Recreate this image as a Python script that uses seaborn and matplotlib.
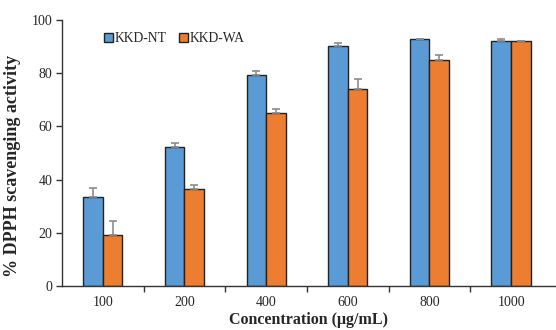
import matplotlib
matplotlib.use("Agg")
import matplotlib.pyplot as plt
import seaborn as sns
import pandas as pd
import numpy as np

concentrations = ["100", "200", "400", "600", "800", "1000"]
nt_values = [33.5, 52.3, 79.2, 90.2, 92.7, 92.2]
nt_errors = [3.4, 1.5, 1.7, 1.0, 0.2, 0.7]
wa_values = [19.2, 36.5, 65.0, 74.2, 85.0, 92.0]
wa_errors = [5.2, 1.5, 1.5, 3.8, 2.0, 0.2]
series = ["KKD-NT", "KKD-WA"]
colors = ["#5B9BD5", "#ED7D31"]

df = pd.DataFrame({
    "conc": concentrations * 2,
    "val": nt_values + wa_values,
    "series": [series[0]] * 6 + [series[1]] * 6,
})

sns.set_style("white")
plt.rcParams["font.family"] = ["Liberation Serif", "DejaVu Serif"]

fig = plt.figure(figsize=(5.56, 3.3), dpi=100)
ax = fig.add_axes([0.1115, 0.1333, 0.8885, 0.806])

sns.barplot(data=df, x="conc", y="val", hue="series", order=concentrations,
            hue_order=series, palette=colors, width=0.48, saturation=1,
            edgecolor="#222222", linewidth=1.0, ax=ax, errorbar=None)

for cont, errs in zip(ax.containers, [nt_errors, wa_errors]):
    xs = [b.get_x() + b.get_width() / 2 for b in cont]
    ys = [b.get_height() for b in cont]
    ax.errorbar(xs, ys, yerr=[np.zeros(len(errs)), errs], fmt="none",
                ecolor="#8c8c8c", elinewidth=1.2, capsize=3, capthick=1.2, zorder=1)

ax.set_ylim(0, 100)
ax.set_xlim(-0.5, 5.55)
ax.set_yticks([0, 20, 40, 60, 80, 100])
ax.tick_params(axis="y", which="major", direction="out", length=4, width=1,
               color="#333333", labelsize=10, left=True, pad=3)
ax.tick_params(axis="x", which="major", length=0, labelsize=10, pad=7)
ax.set_xticks(np.arange(0.5, 5.5, 1), minor=True)
ax.tick_params(axis="x", which="minor", direction="out", length=4, width=1,
               color="#333333", bottom=True)

for s in ["top", "right"]:
    ax.spines[s].set_visible(False)
for s in ["left", "bottom"]:
    ax.spines[s].set_color("#333333")
    ax.spines[s].set_linewidth(1)

ax.set_xlabel("Concentration (μg/mL)", fontsize=11.5, fontweight="bold", labelpad=2)
ax.set_ylabel("% DPPH scavenging activity", fontsize=13, fontweight="bold")
ax.yaxis.set_label_coords(-0.083, 0.45)

leg = ax.legend(loc="upper left", bbox_to_anchor=(0.074, 0.975), ncol=2, frameon=False,
                fontsize=9.8, handlelength=0.65, handleheight=0.65, handletextpad=0.15,
                columnspacing=0.9, borderaxespad=0)
for h in leg.legend_handles:
    h.set_edgecolor("#222222")
    h.set_linewidth(1.0)

fig.savefig("out.png", dpi=100)
